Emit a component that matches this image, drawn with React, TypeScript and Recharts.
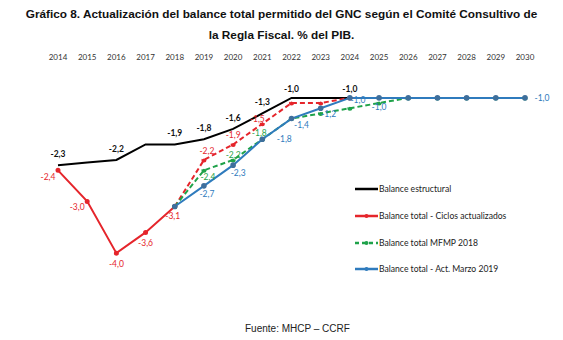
import React from 'react';
import { LineChart, Line, XAxis, YAxis, LabelList } from 'recharts';

const years = ['2014', '2015', '2016', '2017', '2018', '2019', '2020', '2021', '2022', '2023', '2024', '2025', '2026', '2027', '2028', '2029', '2030'];
const estructural = [-2.3, -2.25, -2.2, -1.9, -1.9, -1.8, -1.6, -1.3, -1.0, -1.0, -1.0, null, null, null, null, null, null];
const ciclosHist = [-2.4, -3.0, -4.0, -3.6, -3.1, null, null, null, null, null, null, null, null, null, null, null, null];
const ciclosProy = [null, null, null, null, -3.1, -2.2, -1.9, -1.5, -1.1, -1.1, -1.0, null, null, null, null, null, null];
const mfmp2018 = [null, null, null, null, -3.1, -2.4, -2.2, -1.8, -1.4, -1.3, -1.2, -1.1, -1.0, -1.0, -1.0, -1.0, -1.0];
const marzo2019 = [null, null, null, null, -3.1, -2.7, -2.3, -1.8, -1.4, -1.2, -1.0, -1.0, -1.0, -1.0, -1.0, -1.0, -1.0];

const data = years.map((year, i) => ({
  year,
  estructural: estructural[i],
  ciclosHist: ciclosHist[i],
  ciclosProy: ciclosProy[i],
  mfmp: mfmp2018[i],
  marzo: marzo2019[i],
}));

const BLACK = '#000000';
const RED = '#e5252b';
const GREEN = '#1fa24a';
const BLUE = '#2f7bbd';

// label offsets [dx, dy] by point index
const blackLabels: Record<number, number[]> = { 0: [0, -11], 2: [0, -11], 4: [0, -11], 5: [0, -11], 6: [0, -11], 7: [0, -11], 8: [0, -9], 10: [0, -9] };
const redHistLabels: Record<number, number[]> = { 0: [-10, 7], 1: [-10, 6], 2: [0, 11], 3: [0, 11], 4: [-2, 9] };
const redProyLabels: Record<number, number[]> = { 5: [3, -9], 6: [0, -9], 7: [-5, -5] };
const greenLabels: Record<number, number[]> = { 5: [4, 7], 6: [0, -5], 7: [-3, -6] };
const blueLabels: Record<number, number[]> = { 5: [3, 8], 6: [5, 8], 7: [22, 0], 8: [10, 6], 9: [8, 6], 10: [8, 2], 11: [0, 9], 16: [17, 0] };

const fmt = (v: number) => v.toFixed(1).replace('.', ',');

const makeLabel = (offsets: Record<number, number[]>, color: string, bold = false) => (props: any) => {
  const { x, y, value, index } = props;
  const off = offsets[index];
  if (!off || value == null) return null;
  return (
    <text
      x={x + off[0]}
      y={y + off[1]}
      fill={color}
      fontSize={8.5}
      fontWeight={bold ? 700 : 400}
      fontFamily="Lato, sans-serif"
      textAnchor="middle"
      dominantBaseline="central"
    >
      {fmt(value)}
    </text>
  );
};

const legendItems = [
  { label: 'Balance estructural', color: BLACK, dashed: false, dot: false },
  { label: 'Balance total - Ciclos actualizados', color: RED, dashed: false, dot: true },
  { label: 'Balance total MFMP 2018', color: GREEN, dashed: true, dot: true },
  { label: 'Balance total - Act. Marzo 2019', color: BLUE, dashed: false, dot: true },
];

export default function App() {
  return (
    <div style={{ position: 'absolute', left: 0, top: 0, width: 563, height: 340, background: '#fff' }}>
      <div style={{ position: 'absolute', top: 4, left: 0, width: 563, textAlign: 'center', fontFamily: '"Liberation Sans", Arial, sans-serif', fontWeight: 700, fontSize: 11.8, lineHeight: '21px', color: '#111' }}>
        Gráfico 8. Actualización del balance total permitido del GNC según el Comité Consultivo de
        <br />
        la Regla Fiscal. % del PIB.
      </div>
      <LineChart width={563} height={340} data={data} margin={{ top: 52, left: 58, right: 38, bottom: 61 }}>
        <XAxis
          dataKey="year"
          orientation="top"
          axisLine={false}
          tickLine={false}
          tickSize={10}
          height={20}
          interval={0}
          tick={{ fontSize: 8, fill: '#333', fontFamily: 'Lato, sans-serif' }}
        />
        <YAxis hide domain={[-4.5, -0.5]} />
        <Line dataKey="estructural" stroke={BLACK} strokeWidth={2} dot={false} isAnimationActive={false}>
          <LabelList dataKey="estructural" content={makeLabel(blackLabels, '#111', true)} />
        </Line>
        <Line dataKey="ciclosHist" stroke={RED} strokeWidth={2} dot={{ r: 1.5, fill: RED, stroke: RED }} isAnimationActive={false}>
          <LabelList dataKey="ciclosHist" content={makeLabel(redHistLabels, RED)} />
        </Line>
        <Line dataKey="ciclosProy" stroke={RED} strokeWidth={2} strokeDasharray="5 3" dot={{ r: 1.5, fill: RED, stroke: RED }} isAnimationActive={false}>
          <LabelList dataKey="ciclosProy" content={makeLabel(redProyLabels, RED)} />
        </Line>
        <Line dataKey="mfmp" stroke={GREEN} strokeWidth={2} strokeDasharray="5 3" dot={{ r: 1.5, fill: GREEN, stroke: GREEN }} isAnimationActive={false}>
          <LabelList dataKey="mfmp" content={makeLabel(greenLabels, GREEN)} />
        </Line>
        <Line dataKey="marzo" stroke={BLUE} strokeWidth={2} dot={{ r: 1.8, fill: '#3f6f9c', stroke: '#3f6f9c' }} isAnimationActive={false}>
          <LabelList dataKey="marzo" content={makeLabel(blueLabels, BLUE)} />
        </Line>
      </LineChart>
      <div style={{ position: 'absolute', left: 355, top: 176 }}>
        {legendItems.map((it) => (
          <div key={it.label} style={{ display: 'flex', alignItems: 'center', height: 26.7 }}>
            <svg width={23} height={6}>
              <line x1={0} y1={3} x2={23} y2={3} stroke={it.color} strokeWidth={2.5} strokeDasharray={it.dashed ? '4 3' : undefined} />
              {it.dot && <circle cx={11.5} cy={3} r={2} fill={it.color} />}
            </svg>
            <span style={{ fontFamily: 'Lato, sans-serif', fontSize: 8.6, color: '#222', marginLeft: 1 }}>{it.label}</span>
          </div>
        ))}
      </div>
      <div style={{ position: 'absolute', top: 323, left: 245, fontFamily: '"Liberation Sans", Arial, sans-serif', fontSize: 10, color: '#222' }}>
        Fuente: MHCP – CCRF
      </div>
    </div>
  );
}
